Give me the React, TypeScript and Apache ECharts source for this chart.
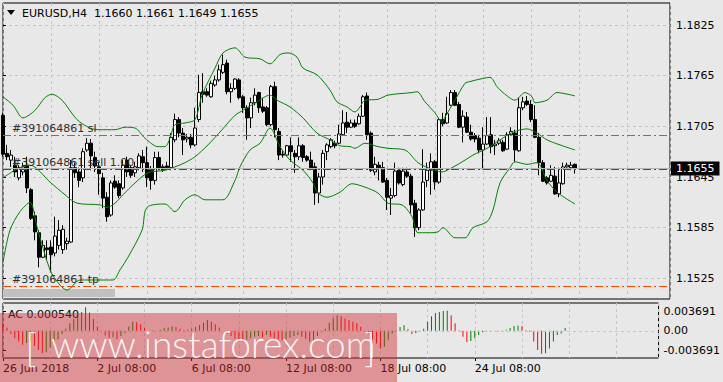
import React, { useEffect, useRef } from 'react';
import * as echarts from 'echarts';

const symbolName = 'EURUSD,H4';
const orderId = '#391064861';
const xTickBars = [0, 24, 48, 72, 96, 120];
const xTickLabels = ['26 Jun 2018', '2 Jul 08:00', '6 Jul 08:00', '12 Jul 08:00', '18 Jul 08:00', '24 Jul 08:00'];
const priceTicks = [1.1525, 1.1585, 1.1645, 1.1705, 1.1765, 1.1825];
const acTicks = [-0.003691, 0, 0.003691];
const slPrice = 1.1695;
const tpPrice = 1.1516;
const sellPrice = 1.1654;
const bidPrice = 1.1655;

const opens = [
  1.1718, 1.1673, 1.1665, 1.1659, 1.1644, 1.1651, 1.1659, 1.1630, 1.1599, 1.1579,
  1.1550, 1.1561, 1.1562, 1.1555, 1.1564, 1.1559, 1.1566, 1.1568, 1.1656, 1.1651,
  1.1644, 1.1677, 1.1685, 1.1668, 1.1657, 1.1644, 1.1621, 1.1600, 1.1640, 1.1637,
  1.1632, 1.1665, 1.1656, 1.1650, 1.1656, 1.1669, 1.1662, 1.1653, 1.1641, 1.1668,
  1.1657, 1.1658, 1.1656, 1.1689, 1.1713, 1.1697, 1.1690, 1.1692, 1.1683, 1.1713,
  1.1746, 1.1746, 1.1740, 1.1754, 1.1760, 1.1769, 1.1780, 1.1746, 1.1750, 1.1760,
  1.1740, 1.1727, 1.1715, 1.1733, 1.1745, 1.1728, 1.1727, 1.1707, 1.1752, 1.1699,
  1.1672, 1.1671, 1.1682, 1.1673, 1.1669, 1.1682, 1.1669, 1.1665, 1.1657, 1.1626,
  1.1645, 1.1675, 1.1681, 1.1685, 1.1685, 1.1695, 1.1710, 1.1704, 1.1709, 1.1708,
  1.1717, 1.1741, 1.1697, 1.1651, 1.1659, 1.1656, 1.1641, 1.1620, 1.1623, 1.1653,
  1.1636, 1.1651, 1.1646, 1.1614, 1.1585, 1.1606, 1.1641, 1.1653, 1.1663, 1.1639,
  1.1713, 1.1709, 1.1730, 1.1745, 1.1731, 1.1704, 1.1716, 1.1698, 1.1694, 1.1691,
  1.1677, 1.1684, 1.1695, 1.1682, 1.1685, 1.1686, 1.1678, 1.1695, 1.1697, 1.1676,
  1.1727, 1.1735, 1.1731, 1.1713, 1.1692, 1.1662, 1.1644, 1.1640, 1.1646, 1.1625,
  1.1637, 1.1657, 1.1656, 1.1660,
];
const closes = [
  1.1672, 1.1669, 1.1671, 1.1651, 1.1656, 1.1657, 1.1632, 1.1596, 1.1580, 1.1550,
  1.1564, 1.1559, 1.1553, 1.1575, 1.1582, 1.1583, 1.1569, 1.1656, 1.1650, 1.1641,
  1.1675, 1.1685, 1.1670, 1.1658, 1.1649, 1.1620, 1.1598, 1.1638, 1.1633, 1.1623,
  1.1659, 1.1651, 1.1647, 1.1657, 1.1670, 1.1662, 1.1644, 1.1641, 1.1668, 1.1656,
  1.1653, 1.1656, 1.1692, 1.1713, 1.1697, 1.1689, 1.1692, 1.1683, 1.1703, 1.1745,
  1.1743, 1.1742, 1.1756, 1.1760, 1.1772, 1.1778, 1.1746, 1.1750, 1.1761, 1.1739,
  1.1727, 1.1715, 1.1733, 1.1742, 1.1727, 1.1723, 1.1707, 1.1752, 1.1701, 1.1671,
  1.1671, 1.1682, 1.1675, 1.1669, 1.1682, 1.1668, 1.1665, 1.1656, 1.1626, 1.1645,
  1.1673, 1.1683, 1.1689, 1.1682, 1.1696, 1.1709, 1.1704, 1.1709, 1.1705, 1.1717,
  1.1740, 1.1695, 1.1653, 1.1660, 1.1656, 1.1639, 1.1621, 1.1623, 1.1652, 1.1638,
  1.1652, 1.1646, 1.1612, 1.1585, 1.1606, 1.1639, 1.1653, 1.1663, 1.1639, 1.1713,
  1.1708, 1.1720, 1.1745, 1.1730, 1.1704, 1.1717, 1.1698, 1.1690, 1.1690, 1.1677,
  1.1684, 1.1694, 1.1681, 1.1684, 1.1688, 1.1676, 1.1695, 1.1699, 1.1677, 1.1727,
  1.1734, 1.1731, 1.1713, 1.1692, 1.1662, 1.1640, 1.1638, 1.1647, 1.1625, 1.1638,
  1.1657, 1.1659, 1.1659, 1.1655,
];
const lows = [
  1.1669, 1.1665, 1.1657, 1.1645, 1.1641, 1.1647, 1.1626, 1.1594, 1.1570, 1.1538,
  1.1549, 1.1547, 1.1532, 1.1551, 1.1559, 1.1554, 1.1559, 1.1567, 1.1644, 1.1633,
  1.1639, 1.1675, 1.1653, 1.1651, 1.1624, 1.1608, 1.1592, 1.1598, 1.1631, 1.1620,
  1.1630, 1.1645, 1.1644, 1.1645, 1.1653, 1.1651, 1.1633, 1.1630, 1.1636, 1.1653,
  1.1651, 1.1653, 1.1653, 1.1686, 1.1692, 1.1671, 1.1686, 1.1679, 1.1681, 1.1710,
  1.1733, 1.1740, 1.1739, 1.1752, 1.1758, 1.1767, 1.1743, 1.1733, 1.1748, 1.1737,
  1.1721, 1.1689, 1.1703, 1.1730, 1.1721, 1.1721, 1.1705, 1.1705, 1.1692, 1.1665,
  1.1668, 1.1670, 1.1663, 1.1650, 1.1665, 1.1663, 1.1663, 1.1653, 1.1612, 1.1614,
  1.1636, 1.1665, 1.1679, 1.1679, 1.1684, 1.1694, 1.1697, 1.1703, 1.1703, 1.1707,
  1.1716, 1.1689, 1.1651, 1.1647, 1.1641, 1.1638, 1.1606, 1.1600, 1.1621, 1.1636,
  1.1634, 1.1644, 1.1602, 1.1574, 1.1582, 1.1605, 1.1633, 1.1624, 1.1630, 1.1637,
  1.1705, 1.1708, 1.1729, 1.1729, 1.1703, 1.1686, 1.1697, 1.1688, 1.1686, 1.1673,
  1.1654, 1.1683, 1.1673, 1.1671, 1.1683, 1.1675, 1.1677, 1.1694, 1.1663, 1.1675,
  1.1724, 1.1729, 1.1710, 1.1691, 1.1647, 1.1639, 1.1636, 1.1639, 1.1624, 1.1621,
  1.1636, 1.1656, 1.1653, 1.1649,
];
const highs = [
  1.1721, 1.1683, 1.1677, 1.1669, 1.1659, 1.1662, 1.1669, 1.1632, 1.1604, 1.1582,
  1.1570, 1.1570, 1.1570, 1.1598, 1.1594, 1.1588, 1.1573, 1.1665, 1.1662, 1.1656,
  1.1679, 1.1691, 1.1690, 1.1675, 1.1662, 1.1650, 1.1627, 1.1641, 1.1647, 1.1641,
  1.1665, 1.1669, 1.1659, 1.1663, 1.1673, 1.1677, 1.1681, 1.1658, 1.1675, 1.1675,
  1.1660, 1.1663, 1.1697, 1.1720, 1.1716, 1.1703, 1.1696, 1.1696, 1.1727, 1.1766,
  1.1768, 1.1750, 1.1759, 1.1765, 1.1778, 1.1790, 1.1784, 1.1756, 1.1762, 1.1762,
  1.1742, 1.1730, 1.1739, 1.1750, 1.1746, 1.1739, 1.1729, 1.1754, 1.1758, 1.1703,
  1.1677, 1.1683, 1.1692, 1.1677, 1.1692, 1.1684, 1.1671, 1.1675, 1.1662, 1.1650,
  1.1677, 1.1685, 1.1691, 1.1688, 1.1707, 1.1724, 1.1722, 1.1713, 1.1713, 1.1720,
  1.1742, 1.1745, 1.1699, 1.1669, 1.1663, 1.1663, 1.1644, 1.1632, 1.1662, 1.1656,
  1.1656, 1.1656, 1.1649, 1.1618, 1.1608, 1.1678, 1.1662, 1.1673, 1.1665, 1.1715,
  1.1721, 1.1740, 1.1748, 1.1748, 1.1734, 1.1724, 1.1722, 1.1707, 1.1697, 1.1695,
  1.1704, 1.1716, 1.1716, 1.1689, 1.1691, 1.1689, 1.1698, 1.1704, 1.1701, 1.1739,
  1.1740, 1.1741, 1.1736, 1.1730, 1.1697, 1.1665, 1.1646, 1.1659, 1.1657, 1.1656,
  1.1662, 1.1662, 1.1663, 1.1661,
];

const upperBand = [
  [0, 1.174], [2.5, 1.173], [5, 1.1715], [8, 1.1724], [10.5, 1.1739], [12.25, 1.1743], [14.75, 1.1736],
  [18.5, 1.1713], [21.75, 1.1703], [24.25, 1.1701], [28, 1.1701], [30.5, 1.1704], [33, 1.1703],
  [35.5, 1.1691], [38.75, 1.1681], [40.5, 1.1681], [41.75, 1.1691], [43, 1.1707], [45.5, 1.1709],
  [48, 1.1713], [49.75, 1.1742], [53, 1.1774], [55, 1.1792], [58, 1.1798], [60.5, 1.1787],
  [64.25, 1.1785], [66.75, 1.1779], [69.25, 1.179], [71.25, 1.1792], [73.5, 1.1787], [75, 1.1774],
  [78.5, 1.1766], [81.75, 1.1748], [83.5, 1.1734], [86, 1.1728], [88, 1.1722], [89.25, 1.1728],
  [90.5, 1.1736], [93.75, 1.1737], [96.25, 1.1742], [102.25, 1.1745], [103.5, 1.1746], [105.5, 1.1734],
  [108, 1.1721], [109.75, 1.171], [110.5, 1.1716], [113, 1.1736], [115.5, 1.1756], [116.75, 1.1758],
  [119.25, 1.1761], [121.75, 1.1763], [123.5, 1.1752], [125, 1.1745], [128, 1.1736], [130.5, 1.1745],
  [132.25, 1.174], [133, 1.1733], [136, 1.1736], [138.5, 1.1745], [143, 1.1741],
];
const middleBand = [
  [0, 1.1644], [3, 1.1653], [6.75, 1.1659], [11.75, 1.1639], [15.5, 1.1624], [18.5, 1.1614],
  [24.25, 1.1612], [26, 1.1609], [28, 1.1614], [30, 1.1624], [33, 1.1638], [36.25, 1.165],
  [40.5, 1.1653], [43, 1.1657], [45.5, 1.1662], [48, 1.1669], [51.25, 1.1683], [54.75, 1.1701],
  [58, 1.1718], [60, 1.1724], [63.5, 1.1734], [66.75, 1.1742], [68.5, 1.1736], [71.75, 1.1728],
  [75, 1.1715], [78.5, 1.1697], [81.75, 1.1689], [84.25, 1.1682], [86.75, 1.1681], [88, 1.1679],
  [90.5, 1.1685], [93.75, 1.1681], [96.25, 1.1679], [100.5, 1.1677], [103.75, 1.1662], [106.25, 1.1656],
  [109.75, 1.1651], [112.25, 1.1656], [115.5, 1.1665], [117.5, 1.1671], [121, 1.1679], [124.25, 1.1689],
  [127.5, 1.1698], [131, 1.1702], [133.5, 1.1697], [136, 1.1689], [139.25, 1.1683], [143, 1.1677],
];
const lowerBand = [
  [0, 1.1544], [1.75, 1.1582], [4.25, 1.1604], [6.75, 1.1615], [8.5, 1.1586], [11.75, 1.1535],
  [14.25, 1.1517], [16, 1.1511], [19.25, 1.1523], [24.25, 1.1523], [27.5, 1.1523], [29.25, 1.1535],
  [31.25, 1.155], [34.75, 1.1582], [36, 1.1609], [40.5, 1.1613], [43, 1.1604], [45.5, 1.1618],
  [48, 1.1624], [50.5, 1.1618], [55, 1.1618], [58, 1.1641], [59.25, 1.1657], [61.75, 1.1677],
  [64.25, 1.1685], [66.75, 1.1703], [69.25, 1.1681], [71.75, 1.1665], [75, 1.1653], [77.5, 1.1638],
  [78.75, 1.1626], [81, 1.1621], [84.25, 1.1627], [87.25, 1.1637], [90.5, 1.1633], [93.75, 1.1626],
  [96.25, 1.1614], [99.75, 1.1612], [102.25, 1.1598], [103.75, 1.1579], [106.25, 1.1579], [108.75, 1.158],
  [110, 1.1585], [113, 1.1573], [115.5, 1.1573], [117.5, 1.1585], [121, 1.1592], [122.5, 1.1606],
  [124.25, 1.1638], [126.75, 1.1656], [128, 1.1663], [131, 1.166], [133.5, 1.1662], [136, 1.1641],
  [138.5, 1.1627], [143, 1.1613],
];

const acValues = [
  0.0013, 0.0006, -0.0006, -0.0014, -0.002, -0.0026, -0.0023, -0.002, -0.0028, -0.0036,
  -0.0042, -0.004, -0.0032, -0.0024, -0.0016, -0.0006, 0.0004, 0.0014, 0.0022, 0.0028,
  0.0035, 0.0044, 0.0034, 0.0022, 0.0008, -0.0002, -0.0009, -0.0013, -0.0012, -0.0016,
  -0.001, -0.0004, 0.0008, 0.0017, 0.0016, 0.0012, 0.0005, -0.0001, 0.0001, 0.0,
  0.0002, 0.0005, 0.0006, 0.0008, 0.0007, 0.0004, 0.0001, 0.0002, 0.0004, 0.0007,
  0.0011, 0.0015, 0.002, 0.0017, 0.0012, 0.0006, 0.0, -0.0006, -0.001, -0.0015,
  -0.0018, -0.002, -0.0017, -0.0014, -0.0011, -0.001, -0.0012, -0.0008, -0.0011, -0.0014,
  -0.0016, -0.0018, -0.0016, -0.0013, -0.001, -0.0008, -0.0011, -0.0015, -0.002, -0.0018,
  -0.001, -0.0003, 0.0004, 0.0015, 0.0024, 0.0029, 0.0027, 0.0023, 0.002, 0.0017,
  0.0014, 0.00075, -0.0001, -0.0006, -0.0017, -0.0024, -0.0033, -0.003, -0.0017, -0.0005,
  -0.0001, 0.0007, 0.00105, 0.0003, -0.0006, -0.0004, -0.0002, 0.0004, 0.0017, 0.0027,
  0.00335, 0.0035, 0.0037, 0.00375, 0.0029, 0.0014, 0.0001, -0.0011, -0.0021, -0.0019,
  -0.0014, -0.0008, -0.0003, -0.0001, -0.00015, -0.00005, -0.0001, 0.00005, 0.0002, 0.0005,
  0.0009, 0.001, 0.00085, 0.0001, -0.0002, -0.002, -0.0036, -0.0043, -0.0042, -0.0033,
  -0.002, -0.0008, -0.0005, 0.00054,
];

const BG = '#e8e8e8';
const FONT = 'DejaVu Sans';
const GRID_COLOR = '#c6c6c6';
const BAND_COLOR = '#008000';
const LEVEL_RED = '#ff4500';
const LEVEL_GREEN = '#008000';
const X_MAX = 166.75;

function buildOption() {
  const last = opens.length - 1;
  const candleData = opens.map((o, i) => [i, o, closes[i], lows[i], highs[i]]);
  const acData = acValues.map((v, i) => ({
    value: [i, v],
    itemStyle: { color: i > 0 && v > acValues[i - 1] ? '#008000' : '#ff0000' },
  }));
  const levelSeries = (price: number, color: string, text: string, solid = false, labelOverride: any = null) => ({
    type: 'line',
    xAxisIndex: 0,
    yAxisIndex: 0,
    data: [],
    color,
    symbol: 'none',
    silent: true,
    z: 5,
    markLine: {
      silent: true,
      precision: 5,
      symbol: ['none', 'none'],
      lineStyle: { color, type: solid ? 'solid' : [8, 3, 2, 3], width: 1, opacity: 1 },
      label: labelOverride || {
        show: true,
        position: 'insideStartTop',
        formatter: text,
        color: '#303030',
        fontFamily: FONT,
        fontSize: 11,
        distance: [9, 1],
      },
      data: [{ yAxis: price }],
    },
  });
  const bandSeries = (data: number[][]) => ({
    type: 'line',
    xAxisIndex: 0,
    yAxisIndex: 0,
    data,
    symbol: 'none',
    smooth: 0.3,
    lineStyle: { color: BAND_COLOR, width: 1 },
    z: 4,
    silent: true,
  });
  const wmStyle = { fill: 'rgba(255,255,255,0.92)', fontFamily: 'Lato', fontWeight: 300, verticalAlign: 'middle' };

  return {
    animation: false,
    backgroundColor: BG,
    textStyle: { fontFamily: FONT },
    grid: [
      { left: 3, top: 3, width: 667, height: 296, show: true, borderColor: '#000', borderWidth: 1, backgroundColor: 'transparent' },
      { left: 3, top: 303, width: 667, height: 55, show: true, borderColor: '#000', borderWidth: 1, backgroundColor: 'transparent' },
    ],
    xAxis: [
      {
        type: 'value', gridIndex: 0, min: 0, max: X_MAX, interval: 12,
        axisLine: { show: false }, axisTick: { show: false }, axisLabel: { show: false },
        splitLine: { show: true, lineStyle: { color: GRID_COLOR, type: [3, 3] } },
      },
      {
        type: 'value', gridIndex: 1, position: 'top', min: 0, max: X_MAX, interval: 12,
        axisLine: { show: false }, axisTick: { show: false }, axisLabel: { show: false },
        splitLine: { show: true, lineStyle: { color: GRID_COLOR, type: [3, 3] } },
      },
      {
        type: 'value', gridIndex: 1, position: 'bottom', min: 0, max: X_MAX,
        axisLine: { show: false },
        axisTick: { show: true, customValues: xTickBars, length: 3, lineStyle: { color: '#000' } },
        axisLabel: {
          customValues: xTickBars,
          formatter: (v: number) => { const k = xTickBars.indexOf(v); return k >= 0 ? xTickLabels[k] : ''; },
          align: 'left', margin: 5, color: '#000', fontSize: 11, fontFamily: FONT,
        },
        splitLine: { show: false },
      },
    ],
    yAxis: [
      {
        type: 'value', gridIndex: 0, position: 'right', min: 1.15005, max: 1.18511,
        axisLine: { show: false },
        axisTick: { show: true, customValues: priceTicks, length: 3, lineStyle: { color: '#000' } },
        axisLabel: { customValues: priceTicks, formatter: (v: number) => v.toFixed(4), margin: 6, color: '#000', fontSize: 11, fontFamily: FONT },
        splitLine: { show: true, lineStyle: { color: GRID_COLOR, type: [3, 3] } },
      },
      {
        type: 'value', gridIndex: 1, position: 'right', min: -0.0051, max: 0.0052,
        axisLine: { show: false },
        axisTick: { show: true, customValues: acTicks, length: 3, lineStyle: { color: '#000' } },
        axisLabel: {
          customValues: acTicks,
          formatter: (v: number) => (v === 0 ? '0.00' : v.toFixed(6)),
          margin: 5, color: '#000', fontSize: 11, fontFamily: FONT,
        },
        splitLine: { show: false },
      },
    ],
    series: [
      {
        type: 'candlestick',
        xAxisIndex: 0,
        yAxisIndex: 0,
        data: candleData,
        encode: { x: 0, y: [1, 2, 3, 4] },
        barWidth: 3,
        z: 3,
        itemStyle: { color: '#ffffff', color0: '#000000', borderColor: '#000000', borderColor0: '#000000', borderWidth: 1 },
      },
      levelSeries(bidPrice, '#b4b4b4', '', true, {
        show: true, position: 'end', formatter: bidPrice.toFixed(4), color: '#ffffff',
        backgroundColor: '#000000', padding: [2, 5, 1, 5], fontFamily: FONT, fontSize: 11, distance: 1,
      }),
      levelSeries(sellPrice, LEVEL_GREEN, `${orderId} sell 1.00`),
      levelSeries(slPrice, LEVEL_RED, `${orderId} sl`),
      levelSeries(tpPrice, LEVEL_RED, `${orderId} tp`),
      bandSeries(upperBand),
      bandSeries(middleBand),
      bandSeries(lowerBand),
      {
        type: 'bar',
        xAxisIndex: 2,
        yAxisIndex: 1,
        data: acData,
        barWidth: 1,
        silent: true,
        markLine: {
          silent: true,
          precision: 6,
          symbol: ['none', 'none'],
          label: { show: false },
          lineStyle: { color: GRID_COLOR, type: [3, 3], width: 1 },
          data: [{ yAxis: 0 }],
        },
      },
    ],
    graphic: [
      { type: 'rect', shape: { x: 3, y: 289, width: 112, height: 8 }, style: { fill: '#c0c0c0' }, z: 0, silent: true },
      { type: 'polygon', shape: { points: [[7, 10], [15, 10], [11, 15]] }, style: { fill: '#000' }, z: 50 },
      { type: 'text', x: 22, y: 13, style: { text: symbolName, fill: '#000', fontFamily: FONT, fontSize: 11, verticalAlign: 'middle' }, z: 50 },
      {
        type: 'text', x: 94, y: 13,
        style: {
          text: [opens[last], highs[last], lows[last], closes[last]].map((v) => v.toFixed(4)).join(' '),
          fill: '#000', fontFamily: FONT, fontSize: 11, verticalAlign: 'middle',
        },
        z: 50,
      },
      { type: 'text', x: 8, y: 314, style: { text: `AC ${acValues[last].toFixed(6)}`, fill: '#000', fontFamily: FONT, fontSize: 11, verticalAlign: 'middle' }, z: 50 },
      { type: 'rect', shape: { x: 0, y: 313, width: 397, height: 69 }, style: { fill: 'rgba(210,45,50,0.45)' }, z: 100, silent: true },
      { type: 'text', x: 25, y: 347, style: { ...wmStyle, text: '[', fontSize: 40 }, z: 101 },
      { type: 'text', x: 51, y: 343, style: { ...wmStyle, text: 'www.instaforex.com', fontSize: 37 }, z: 101 },
      { type: 'text', x: 364, y: 347, style: { ...wmStyle, text: ']', fontSize: 40 }, z: 101 },
    ],
  };
}

export default function App() {
  const ref = useRef<HTMLDivElement>(null);
  useEffect(() => {
    if (!ref.current) return;
    const chart = echarts.init(ref.current, null, { renderer: 'svg' });
    chart.setOption(buildOption() as any);
    return () => chart.dispose();
  }, []);
  return (
    <div
      ref={ref}
      style={{ position: 'absolute', left: 0, top: 0, width: 723, height: 382, background: BG, overflow: 'hidden' }}
    />
  );
}
